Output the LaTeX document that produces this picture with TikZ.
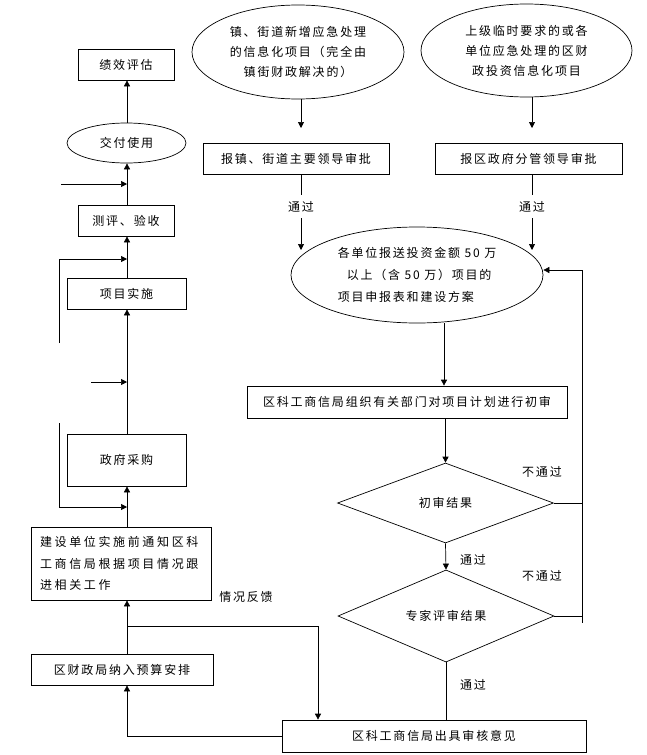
\documentclass[tikz,border=0pt]{standalone}
\usepackage{fontspec}
\setmainfont{Noto Sans CJK SC}[LetterSpace=15]
\usetikzlibrary{shapes.geometric,arrows.meta}
\begin{document}
\begin{tikzpicture}[x=1pt,y=-1pt,
  every node/.style={font=\fontsize{12}{20}\selectfont},
  box/.style={draw, rectangle, inner sep=0pt, line width=0.7pt},
  ell/.style={draw, ellipse, inner sep=0pt, line width=0.7pt},
  dia/.style={draw, diamond, inner sep=0pt, line width=0.7pt},
  arr/.style={-{Triangle[length=6pt,width=6pt]}, line width=0.7pt},
  ln/.style={line width=0.7pt},
  lbl/.style={fill=white, inner xsep=1.5pt, inner ysep=6pt}]
\fill[white] (0,0) rectangle (647,755);
\useasboundingbox (0,0) rectangle (647,755);

% left column
\node[box, minimum width=96pt, minimum height=31pt] (jx) at (126,64.5) {绩效评估};
\node[ell, minimum width=119pt, minimum height=40pt] (jf) at (126.5,143) {交付使用};
\node[box, minimum width=96pt, minimum height=31pt] (cp) at (126,220.5) {测评、验收};
\node[box, minimum width=119pt, minimum height=31pt] (xm) at (126.5,293.5) {项目实施};
\node[box, minimum width=119pt, minimum height=52pt] (zf) at (126.5,460) {政府采购};
\node[box, minimum height=73pt, align=left, text width=162pt, inner xsep=9pt,
      font=\fontsize{12}{21.5}\selectfont\addfontfeatures{LetterSpace=22}] (js) at (121,563.5)
  {建设单位实施前通知区科\\工商信局根据项目情况跟\\进相关工作};
\node[box, minimum width=182pt, minimum height=31pt] (cz) at (122,669.5) {区财政局纳入预算安排};

% right part
\node[ell, minimum width=212pt, minimum height=94pt, align=center] (e1) at (298,52)
  {镇、街道新增应急处理\\的信息化项目（完全由\\镇街财政解决的）};
\node[ell, minimum width=211pt, minimum height=93pt, align=center] (e2) at (526.5,50.5)
  {上级临时要求的或各\\单位应急处理的区财\\政投资信息化项目};
\node[box, minimum width=186pt, minimum height=31pt] (b1) at (296,158.5) {报镇、街道主要领导审批};
\node[box, minimum width=187pt, minimum height=31pt] (b2) at (528.5,158.5) {报区政府分管领导审批};
\node[ell, minimum width=252pt, minimum height=96pt, align=left,
      font=\fontsize{12}{22}\selectfont] (e3) at (417,275)
  {各单位报送投资金额 50 万\\\hspace*{9pt}以上（含 50 万）项目的\\项目申报表和建设方案};
\node[box, minimum width=320pt, minimum height=32pt] (b3) at (407,402) {区科工商信局组织有关部门对项目计划进行初审};
\node[dia, minimum width=216pt, minimum height=80pt] (d1) at (445.5,503) {初审结果};
\node[dia, minimum width=216pt, minimum height=82pt] (d2) at (446,616) {专家评审结果};
\node[box, minimum width=304pt, minimum height=32pt] (b4) at (434,736) {区科工商信局出具审核意见};

% labels
\node (n1) at (542,472) {不通过};
\node (n2) at (542,576) {不通过};
\node (p3) at (473,560) {通过};
\node (p4) at (473,685) {通过};
\node (fk) at (246,597) {情况反馈};

% coordinates
\coordinate (m) at (127,0);
\coordinate (a1) at (301,128);
\coordinate (a2) at (532,128);
\coordinate (t1) at (301,250);
\coordinate (t2) at (532,250);
\coordinate (c3) at (444,0);
\coordinate (rt) at (582,270);
\coordinate (rb) at (582,623);
\coordinate (fb) at (318,626);
\coordinate (f1) at (61,184);
\coordinate (f2) at (59,343);
\coordinate (g2) at (59,259);
\coordinate (f3) at (91,382);
\coordinate (f4) at (59,423);
\coordinate (g4) at (59,507);

% main left column
\draw[arr] (m |- jf.north) -- (m |- jx.south);
\draw[arr] (m |- cp.north) -- (m |- jf.south);
\draw[arr] (m |- xm.north) -- (m |- cp.south);
\draw[arr] (m |- zf.north) -- (m |- xm.south);
\draw[arr] (m |- js.north) -- (m |- zf.south);
\draw[arr] (m |- cz.north) -- (m |- js.south);
\draw[arr] (b4.west) -| (m |- cz.south);
\draw[arr] (fb -| m) -- (fb) -- (fb |- b4.north);

% loose inputs
\draw[arr] (f1) -- (f1 -| m);
\draw[arr] (f2) -- (g2) -- (g2 -| m);
\draw[arr] (f3) -- (f3 -| m);
\draw[arr] (f4) -- (g4) -- (g4 -| m);

% right flow
\draw[arr] (a1 |- e1.south) -- (a1);
\draw[arr] (a2 |- e2.south) -- (a2);
\draw[arr] (t1 |- b1.south) -- node[lbl, pos=0.43] {通过} (t1);
\draw[arr] (t2 |- b2.south) -- node[lbl, pos=0.43] {通过} (t2);
\draw[arr] (c3 |- e3.south) -- (c3 |- b3.north);
\draw[arr] (b3.south -| d1.north) -- (d1.north);
\draw[arr] (d1.south) -- (d2.north);
\draw[ln] (d2.south) -- (d2.south |- b4.north);
\draw[ln] (rt) -- (rb);
\draw[ln] (d1.east) -- (d1.east -| rt);
\draw[ln] (d2.east) -- (d2.east -| rt);
\draw[arr] (rt) -- (rt -| e3.east);
\end{tikzpicture}
\end{document}
